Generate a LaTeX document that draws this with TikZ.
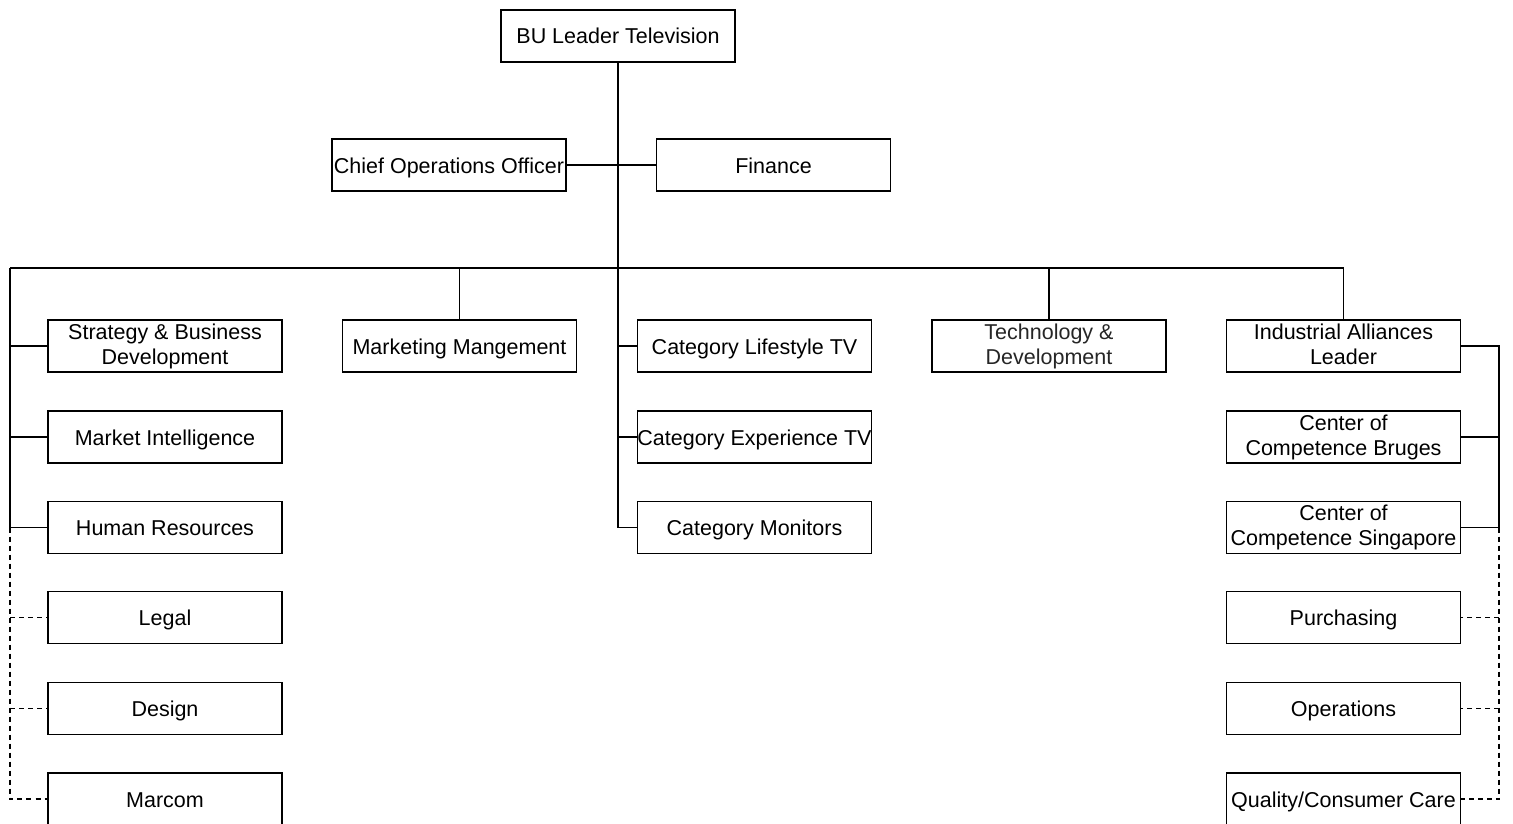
\documentclass[tikz,border=0pt]{standalone}
\usepackage{fontspec}
\setmainfont{Liberation Sans}
\newcommand\lst{\rule[-4.5pt]{0pt}{25pt}}
\begin{document}
\begin{tikzpicture}[x=1pt,y=-1pt,
  box/.style={draw,line width=1.7pt,minimum width=234pt,minimum height=52pt,inner sep=0pt,align=center,
    font=\fontsize{21.5}{25}\selectfont,execute at begin node=\lst},
  conn/.style={line width=1.5pt},
  trunk/.style={line width=2.2pt},
  dotconn/.style={line width=1.4pt,dash pattern=on 5pt off 4pt}]
\path[use as bounding box,clip] (0,0) rectangle (1513,824);
\fill[white] (0,0) rectangle (1513,824);
% top
\node[box] (bu) at (618,36) {BU Leader Television};
\node[box] (coo) at (449,165) {Chief Operations Officer};
\node[box] (fin) at (773.5,165) {Finance};
% second row
\node[box] (sbd) at (165,346) {Strategy \& Business\\\lst Development};
\node[box] (mm) at (459.5,346) {Marketing Mangement};
\node[box] (clt) at (754.5,346) {Category Lifestyle TV};
\node[box,font=\fontsize{21.5}{25}\selectfont\color{black!85}] (td) at (1049,346) {Technology \&\\\lst Development};
\node[box] (ial) at (1343.5,346) {Industrial Alliances\\\lst Leader};
% left column
\node[box] (mi) at (165,437) {Market Intelligence};
\node[box] (hr) at (165,527.5) {Human Resources};
\node[box] (legal) at (165,617.5) {Legal};
\node[box] (design) at (165,708.5) {Design};
\node[box] (marcom) at (165,799) {Marcom};
% middle column
\node[box] (cet) at (754.5,437) {Category Experience TV};
\node[box] (cm) at (754.5,527.5) {Category Monitors};
% right column
\node[box] (ccb) at (1343.5,437) {Center of\\\lst Competence Bruges};
\node[box] (ccs) at (1343.5,527.5) {Center of\\\lst Competence Singapore};
\node[box] (pur) at (1343.5,617.5) {Purchasing};
\node[box] (ops) at (1343.5,708.5) {Operations};
\node[box] (qcc) at (1343.5,799) {Quality/Consumer Care};
% bus coordinates
\coordinate (jn) at (618,268);
\coordinate (lb) at (10,268);
\coordinate (rb) at (1499,346);
% trunk
\draw[trunk] (bu.south) -- (jn);
\draw[conn] (coo.east) -- (fin.west);
\draw[conn] (lb) -- (ial.north |- lb) -- (ial.north);
\draw[conn] (mm.north |- lb) -- (mm.north);
\draw[conn] (td.north |- lb) -- (td.north);
% left column solid
\draw[conn] (lb) |- (hr.west);
\draw[conn] (lb |- sbd.west) -- (sbd.west);
\draw[conn] (lb |- mi.west) -- (mi.west);
% left column dashed
\draw[dotconn] (lb |- hr.west) |- (marcom.west);
\draw[dotconn] (lb |- legal.west) -- (legal.west);
\draw[dotconn] (lb |- design.west) -- (design.west);
% middle column
\draw[conn] (jn) |- (cm.west);
\draw[conn] (jn |- clt.west) -- (clt.west);
\draw[conn] (jn |- cet.west) -- (cet.west);
% right column solid
\draw[conn] (ial.east) -- (rb) |- (ccs.east);
\draw[conn] (rb |- ccb.east) -- (ccb.east);
% right column dashed
\draw[dotconn] (rb |- ccs.east) |- (qcc.east);
\draw[dotconn] (rb |- pur.east) -- (pur.east);
\draw[dotconn] (rb |- ops.east) -- (ops.east);
\end{tikzpicture}
\end{document}
